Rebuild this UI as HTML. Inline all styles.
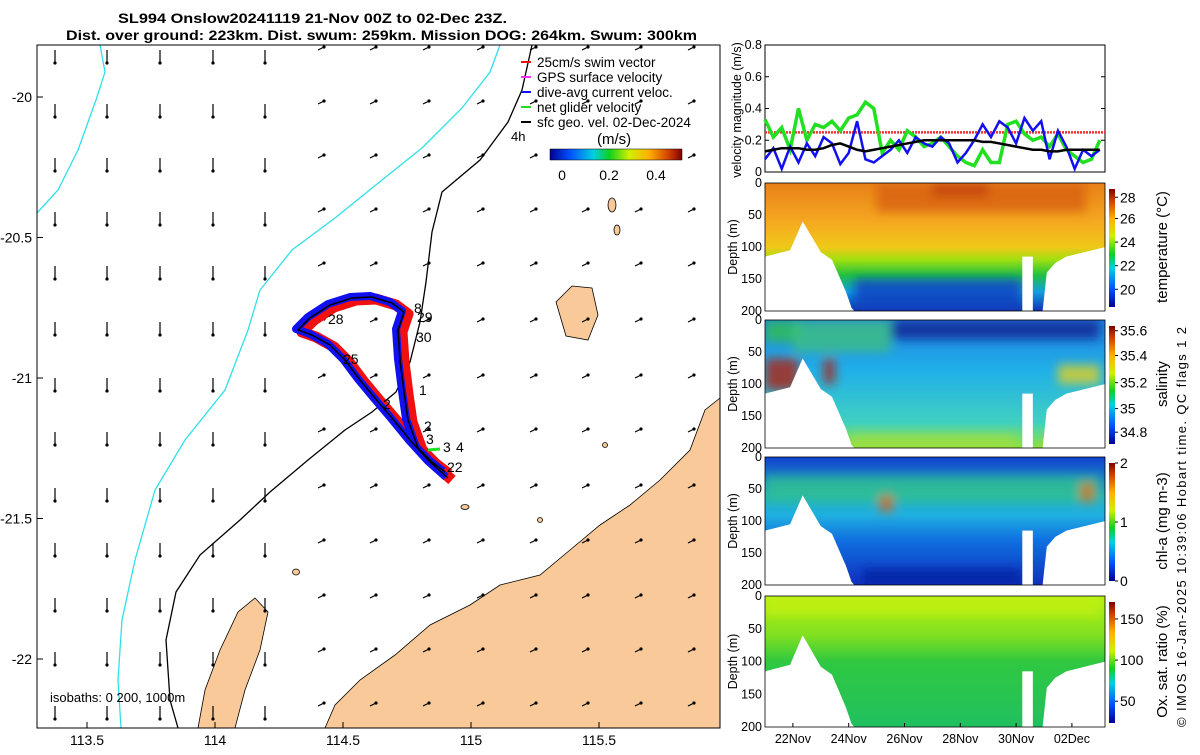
<!DOCTYPE html>
<html><head><meta charset="utf-8"><style>
body{margin:0;background:#fff;}
svg{font-family:"Liberation Sans",sans-serif;}
</style></head><body>
<svg id="fig" width="1200" height="750" viewBox="0 0 1200 750">
<defs>
<filter id="blur" x="-20%" y="-20%" width="140%" height="140%"><feGaussianBlur stdDeviation="5"/></filter>
<linearGradient id="jet" x1="0" y1="0" x2="1" y2="0">
<stop offset="0" stop-color="#00008f"/><stop offset="0.15" stop-color="#0050ff"/><stop offset="0.33" stop-color="#00d0e0"/><stop offset="0.45" stop-color="#10d020"/><stop offset="0.6" stop-color="#d0f000"/><stop offset="0.75" stop-color="#ffb000"/><stop offset="0.9" stop-color="#d04000"/><stop offset="1" stop-color="#800000"/></linearGradient>
<linearGradient id="jetv" x1="0" y1="1" x2="0" y2="0">
<stop offset="0" stop-color="#00008f"/><stop offset="0.15" stop-color="#0050ff"/><stop offset="0.33" stop-color="#00d0e0"/><stop offset="0.45" stop-color="#10d020"/><stop offset="0.6" stop-color="#d0f000"/><stop offset="0.75" stop-color="#ffb000"/><stop offset="0.9" stop-color="#d04000"/><stop offset="1" stop-color="#800000"/></linearGradient>
<linearGradient id="gT" x1="0" y1="0" x2="0" y2="1"><stop offset="0" stop-color="#e88018"/><stop offset="0.3" stop-color="#f5a820"/><stop offset="0.5" stop-color="#f0c818"/><stop offset="0.6" stop-color="#a0e010"/><stop offset="0.72" stop-color="#20c040"/><stop offset="0.85" stop-color="#10a0e0"/><stop offset="1" stop-color="#1030b0"/></linearGradient>
<linearGradient id="gS" x1="0" y1="0" x2="0" y2="1"><stop offset="0" stop-color="#2080e0"/><stop offset="0.4" stop-color="#20b0e8"/><stop offset="0.8" stop-color="#40d0c0"/><stop offset="1" stop-color="#90e040"/></linearGradient>
<linearGradient id="gC" x1="0" y1="0" x2="0" y2="1"><stop offset="0" stop-color="#1040d0"/><stop offset="0.3" stop-color="#20b0c0"/><stop offset="0.45" stop-color="#20b0e0"/><stop offset="0.65" stop-color="#1070e0"/><stop offset="1" stop-color="#1030c0"/></linearGradient>
<linearGradient id="gO" x1="0" y1="0" x2="0" y2="1"><stop offset="0" stop-color="#b8f010"/><stop offset="0.3" stop-color="#80e020"/><stop offset="0.5" stop-color="#30c840"/><stop offset="1" stop-color="#20c060"/></linearGradient>
</defs>
<g id="titles" font-weight="bold" font-size="13.5">
<text x="118" y="23" textLength="389" lengthAdjust="spacingAndGlyphs">SL994 Onslow20241119 21-Nov 00Z to 02-Dec 23Z.</text>
<text x="66" y="40" textLength="631" lengthAdjust="spacingAndGlyphs">Dist. over ground: 223km. Dist. swum: 259km. Mission DOG: 264km. Swum: 300km</text>
</g>
<g id="map"></g>
<g id="right"></g>
<text x="1186" y="727" font-size="13" textLength="400" transform="rotate(-90 1186 727)">© IMOS 16-Jan-2025 10:39:06 Hobart time. QC flags 1  2</text>
</svg>
<script>
const NS="http://www.w3.org/2000/svg";
function mk(t,a,p){const e=document.createElementNS(NS,t);for(const k in a)e.setAttribute(k,a[k]);p.appendChild(e);return e;}
// ---------- MAP ----------
const mapLonTicks=[113.5,114,114.5,115,115.5];
const mapLatTicks=[-20,-20.5,-21,-21.5,-22];
const lx=v=>87+(v-113.5)*256; const ly=v=>97+(-20-v)*281;
const map=document.getElementById('map');
mk('rect',{x:37,y:45,width:683,height:683,fill:'#fff'},map);
const land=[[720,398],[705,410],[690,450],[660,480],[630,505],[600,525],[570,550],[540,575],[500,585],[470,605],[430,625],[395,655],[360,680],[335,705],[325,728],[720,728]];
let e=mk('polygon',{points:land.map(p=>p.join(',')).join(' '),fill:'#f9c99a',stroke:'#000','stroke-width':0.8},map);

const isl1=[[198,728],[205,690],[220,650],[238,612],[255,598],[268,612],[260,650],[245,690],[235,728]];
e=mk('polygon',{points:isl1.map(p=>p.join(',')).join(' '),fill:'#f9c99a',stroke:'#000','stroke-width':0.8},map);

const isl2=[[556,302],[572,286],[592,288],[598,315],[588,340],[566,336]];
e=mk('polygon',{points:isl2.map(p=>p.join(',')).join(' '),fill:'#f9c99a',stroke:'#000','stroke-width':0.8},map);

[[612,205,6,12],[617,230,4,8],[465,507,6,3],[296,572,5,4],[540,520,3,3],[605,445,3,3]].forEach(r=>{mk('ellipse',{cx:r[0],cy:r[1],rx:r[2]/2+1,ry:r[3]/2+1,fill:'#f9c99a',stroke:'#000','stroke-width':0.8},map);});
const cyan1=[[500,45],[490,72],[462,108],[422,148],[382,180],[335,218],[292,250],[260,290],[248,330],[225,390],[185,440],[155,490],[135,560],[122,620],[118,680],[121,728]];
const cyan2=[[100,45],[105,72],[96,100],[78,150],[58,190],[37,213]];
const iso200=[[532,45],[522,90],[508,122],[480,160],[442,192],[432,232],[426,282],[420,322],[410,362],[396,392],[372,412],[345,430],[308,460],[270,492],[240,520],[200,555],[176,592],[166,640],[170,700],[178,728]];
[[cyan1,'#30e0e8'],[cyan2,'#30e0e8'],[iso200,'#000']].forEach((l,i)=>{e=mk('polyline',{points:l[0].map(p=>p.join(',')).join(' '),fill:'none',stroke:l[1],'stroke-width':1.3},map);
});
const acols=[55,107,160,213,265,318,370,423,477,530,582,635,688];
const arows=[50,104,158,212,266,322,378,432,488,543,598,652,706];
acols.forEach((x,i)=>arows.forEach((y,j)=>{
  let dx,dy; if(i<5){dx=0;dy=13;} else {dx=6;dy=-3;}
  const g=mk('g',{},map);
  
  mk('line',{x1:x,y1:y,x2:x+dx,y2:y+dy,stroke:'#000','stroke-width':1.2},g);
  mk('circle',{cx:x+dx,cy:y+dy,r:1.6,fill:'#000'},g);
}));
const track=[[448,478],[430,462],[410,440],[392,418],[375,398],[360,380],[345,360],[330,345],[312,335],[298,330],[310,318],[330,305],[352,298],[372,297],[392,303],[404,312],[398,330],[400,360],[404,392],[408,420],[418,448],[432,462],[445,472]];
const tp=track.map(p=>p.join(',')).join(' ');
e=mk('polyline',{points:tp,fill:'none',stroke:'#f01010','stroke-width':11,'stroke-linejoin':'round',transform:'translate(4,2)'},map);

e=mk('polyline',{points:tp,fill:'none',stroke:'#1010f0','stroke-width':8,'stroke-linejoin':'round',transform:'translate(-2,-1)'},map);

e=mk('polyline',{points:tp,fill:'none',stroke:'#000','stroke-width':1.5},map);

mk('line',{x1:428,y1:450,x2:440,y2:449,stroke:'#20e020','stroke-width':3},map);
[['28',328,324],['8',414,313],['29',417,322],['30',416,342],['25',343,364],['1',419,395],['2',383,409],['2',424,431],['3',426,444],['3',443,452],['4',456,452],['22',447,472]].forEach(t=>{
  e=mk('text',{x:t[1],y:t[2],'font-size':14},map);e.textContent=t[0];
  });
mk('rect',{x:37,y:45,width:683,height:683,fill:'none',stroke:'#000','stroke-width':1},map);
mapLonTicks.forEach(v=>{const x=lx(v);mk('line',{x1:x,y1:728,x2:x,y2:722,stroke:'#000'},map);
  e=mk('text',{x:x,y:745,'font-size':14,'text-anchor':'middle'},map);e.textContent=v;});
mapLatTicks.forEach(v=>{const y=ly(v);mk('line',{x1:37,y1:y,x2:43,y2:y,stroke:'#000'},map);
  e=mk('text',{x:32,y:y+5,'font-size':14,'text-anchor':'end'},map);e.textContent=v;});
e=mk('text',{x:50,y:702,'font-size':13},map);e.textContent='isobaths: 0   200, 1000m';
const leg=mk('g',{},map);
[['25cm/s swim vector','#f01010'],['GPS surface velocity','#ff30ff'],['dive-avg current veloc.','#1010f0'],['net glider velocity','#20e020'],['sfc geo. vel. 02-Dec-2024','#000']].forEach((l,i)=>{
  const y=62+i*15; const g=mk('g',{},leg);
  mk('line',{x1:521,y1:y,x2:531,y2:y,stroke:l[1],'stroke-width':2},g);
  const t=mk('text',{x:537,y:y+5,'font-size':13.5},g);t.textContent=l[0];});
e=mk('text',{x:511,y:141,'font-size':13},map);e.textContent='4h';
e=mk('text',{x:597,y:144,'font-size':15},map);e.textContent='(m/s)';
mk('rect',{x:550,y:149,width:132,height:11,fill:'url(#jet)',stroke:'#000','stroke-width':0.5},map);
[[0,562],[0.2,609],[0.4,656]].forEach(t=>{e=mk('text',{x:t[1],y:180,'font-size':14,'text-anchor':'middle'},map);e.textContent=t[0];});

// ---------- RIGHT PANELS ----------
const R=document.getElementById('right');
const X0=765,X1=1105; const dayPx=27.9;
const tx=d=>X0+d*dayPx;
const dateTicks=['22Nov','24Nov','26Nov','28Nov','30Nov','02Dec'];
const dateTickDays=[1,3,5,7,9,11];
const velDays=[0,0.3,0.6,0.9,1.2,1.5,1.8,2.1,2.4,2.7,3.0,3.3,3.6,3.9,4.2,4.5,4.8,5.1,5.4,5.7,6.0,6.3,6.6,6.9,7.2,7.5,7.8,8.1,8.4,8.7,9.0,9.3,9.6,9.9,10.2,10.5,10.8,11.1,11.4,11.7,12];
const netGlider=[0.33,0.22,0.28,0.14,0.40,0.20,0.30,0.28,0.32,0.26,0.34,0.36,0.44,0.40,0.12,0.20,0.14,0.26,0.22,0.16,0.18,0.22,0.16,0.10,0.06,0.04,0.14,0.06,0.06,0.30,0.32,0.24,0.20,0.22,0.16,0.24,0.14,0.10,0.06,0.08,0.20];
const diveAvg=[0.08,0.15,0.02,0.16,0.06,0.18,0.10,0.22,0.18,0.05,0.12,0.32,0.08,0.06,0.10,0.14,0.20,0.12,0.22,0.18,0.16,0.22,0.18,0.06,0.12,0.20,0.30,0.22,0.32,0.28,0.18,0.34,0.26,0.32,0.08,0.26,0.16,0.02,0.14,0.10,0.14];
const sfcGeo=[0.13,0.14,0.15,0.15,0.15,0.14,0.14,0.15,0.17,0.18,0.16,0.14,0.13,0.14,0.15,0.16,0.17,0.18,0.19,0.20,0.20,0.20,0.20,0.20,0.20,0.20,0.19,0.19,0.18,0.17,0.16,0.15,0.14,0.14,0.13,0.13,0.14,0.14,0.14,0.14,0.14];
const swimRef=0.25;
const velTicks=[0,0.2,0.4,0.6,0.8];
const VY0=172,VY1=45; const vy=v=>VY0-(v/0.8)*(VY0-VY1);
let vp=mk('g',{},R);
mk('rect',{x:X0,y:VY1,width:X1-X0,height:VY0-VY1,fill:'#fff',stroke:'#000'},vp);
velTicks.forEach(v=>{mk('line',{x1:X0,y1:vy(v),x2:X0+4,y2:vy(v),stroke:'#000'},vp);mk('line',{x1:X1,y1:vy(v),x2:X1-4,y2:vy(v),stroke:'#000'},vp);
  const t=mk('text',{x:X0-3,y:vy(v)+4,'font-size':12.5,'text-anchor':'end'},vp);t.textContent=v;});
e=mk('line',{x1:X0,y1:vy(swimRef),x2:X1,y2:vy(swimRef),stroke:'#f03030','stroke-width':2.5,'stroke-dasharray':'2 1'},vp);

[[netGlider,'#20e020',3.5,'net-glider-line'],[diveAvg,'#1010f0',2.5,'dive-avg-line'],[sfcGeo,'#000',2.5,'sfc-geo-line']].forEach(s=>{
  const pts=velDays.map((d,i)=>tx(d)+','+vy(s[0][i])).join(' ');
  const l=mk('polyline',{points:pts,fill:'none',stroke:s[1],'stroke-width':s[2]},vp);
  });
e=mk('text',{x:741,y:110,'font-size':12.5,'text-anchor':'middle',transform:'rotate(-90 741 110)'},vp);e.textContent='velocity magnitude (m/s)';
const bathDays=[0,0.9,1.35,2.0,2.4,2.9,3.1,3.2,9.15,9.2,9.55,9.6,9.8,9.95,10.1,10.4,10.8,12.2];
const bathDepth=[115,105,60,108,120,170,195,200,200,200,200,200,200,200,140,125,115,100];
const gapDays=[9.15,9.6]; const gapDepth=95;
const depthTicks=[0,50,100,150,200];
const panels=[
 {y:183,h:128,fill:'url(#gT)',label:'temperature (°C)',ticks:['20','22','24','26','28'],tp:[0.15,0.35,0.55,0.75,0.93],name:'temperature-panel'},
 {y:320,h:128,fill:'url(#gS)',label:'salinity',ticks:['34.8','35','35.2','35.4','35.6'],tp:[0.1,0.3,0.52,0.75,0.96],name:'salinity-panel'},
 {y:457,h:128,fill:'url(#gC)',label:'chl-a (mg m-3)',ticks:['0','1','2'],tp:[0,0.5,1],name:'chla-panel'},
 {y:596,h:131,fill:'url(#gO)',label:'Ox. sat. ratio (%)',ticks:['50','100','150'],tp:[0.18,0.52,0.86],name:'oxygen-panel'}];
const patches=[
 [[4,11.5,0,45,'#d86010'],[6,8,0,20,'#c04008'],[3.2,9.2,150,200,'#1040c0']],
 [[0,1.3,0,35,'#30c050'],[0,1.2,60,110,'#b02010'],[2.1,2.5,60,100,'#b02010'],[4.5,12,0,30,'#102090'],[1,4.5,0,50,'#40c080'],[10.5,12,70,100,'#e0d020'],[3,9,180,200,'#a0e040']],
 [[0,12,30,70,'#30c090'],[4.1,4.6,60,85,'#e06010'],[11.3,11.8,40,70,'#e07010'],[3.5,9.2,175,200,'#0020a0']],
 [[0,12,0,30,'#c0f010']]];
panels.forEach((p,pi)=>{
  const g=mk('g',{},R);
  const dy=d=>p.y+d/200*p.h;
  const cid='clip'+pi;
  const cp=mk('clipPath',{id:cid},g);mk('rect',{x:X0,y:p.y,width:X1-X0,height:p.h},cp);
  const inner=mk('g',{'clip-path':'url(#'+cid+')'},g);
  mk('rect',{x:X0,y:p.y,width:X1-X0,height:p.h,fill:p.fill},inner);
  const pg=mk('g',{filter:'url(#blur)'},inner);
  patches[pi].forEach(c=>{mk('rect',{x:tx(c[0]),y:dy(c[2]),width:tx(c[1])-tx(c[0]),height:dy(c[3])-dy(c[2]),fill:c[4],opacity:0.8},pg);});
  let pts=bathDays.map((d,i)=>tx(d)+','+dy(bathDepth[i]));
  pts=[X0+','+(p.y+p.h+1)].concat(pts).concat([X1+','+(p.y+p.h+1)]);
  mk('polygon',{points:pts.join(' '),fill:'#fff'},inner);
  mk('rect',{x:tx(gapDays[0])+2,y:dy(gapDepth+20),width:tx(gapDays[1])-tx(gapDays[0])-2,height:dy(200)-dy(gapDepth+20),fill:'#fff'},inner);
  mk('rect',{x:X0,y:p.y,width:X1-X0,height:p.h,fill:'none',stroke:'#000','stroke-width':0.8},g);
  depthTicks.forEach(v=>{const t=mk('text',{x:X0-3,y:dy(v)+4,'font-size':12.5,'text-anchor':'end'},g);t.textContent=v;});
  const t=mk('text',{x:737,y:p.y+p.h/2,'font-size':12.5,'text-anchor':'middle',transform:'rotate(-90 737 '+(p.y+p.h/2)+')'},g);t.textContent='Depth (m)';
  const cy0=p.y+6,cy1=p.y+p.h-4;
  const cb=mk('rect',{x:1109,y:cy0,width:6,height:cy1-cy0,fill:'url(#jetv)'},g);
  
  p.ticks.forEach((tk,i)=>{const y=cy1-p.tp[i]*(cy1-cy0);mk('line',{x1:1115,y1:y,x2:1118,y2:y,stroke:'#000'},g);
    const tt=mk('text',{x:1120,y:y+5,'font-size':14},g);tt.textContent=tk;});
  const lx2=1167,lyc=p.y+p.h/2;
  const tl=mk('text',{x:lx2,y:lyc,'font-size':15,'text-anchor':'middle',transform:'rotate(-90 '+lx2+' '+lyc+')'},g);tl.textContent=p.label;
  
});
dateTicks.forEach((l,i)=>{const x=tx(dateTickDays[i]);mk('line',{x1:x,y1:727,x2:x,y2:723,stroke:'#000'},R);
  const t=mk('text',{x:x,y:743,'font-size':12.5,'text-anchor':'middle'},R);t.textContent=l;});
</script>
</body></html>
